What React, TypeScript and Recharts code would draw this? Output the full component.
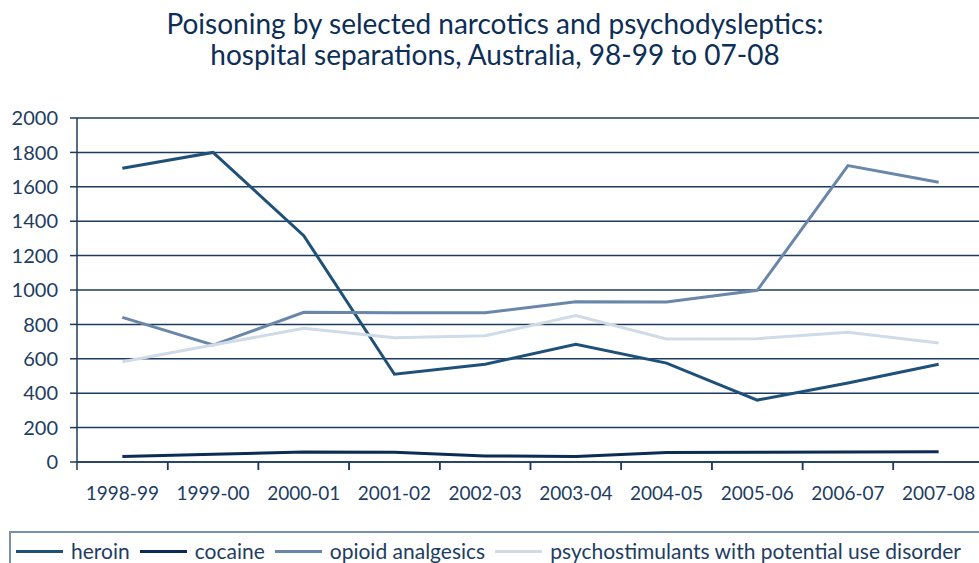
import { LineChart, Line, XAxis, YAxis, CartesianGrid } from 'recharts'

const years = ['1998-99', '1999-00', '2000-01', '2001-02', '2002-03', '2003-04', '2004-05', '2005-06', '2006-07', '2007-08']
const heroin = [1708, 1800, 1316, 510, 568, 684, 575, 360, 459, 568]
const cocaine = [32, 45, 58, 57, 35, 32, 55, 57, 58, 60]
const opioid = [841, 680, 870, 868, 868, 932, 930, 998, 1723, 1626]
const psycho = [583, 680, 777, 723, 734, 851, 715, 717, 754, 692]
const yTicks = [0, 200, 400, 600, 800, 1000, 1200, 1400, 1600, 1800, 2000]

const series = [
  { key: 'heroin', name: 'heroin', color: '#1f5078' },
  { key: 'cocaine', name: 'cocaine', color: '#0b2c55' },
  { key: 'opioid', name: 'opioid analgesics', color: '#6a87a9' },
  { key: 'psycho', name: 'psychostimulants with potential use disorder', color: '#d0dbe8' },
]

const data = years.map((y, i) => ({
  year: y,
  heroin: heroin[i],
  cocaine: cocaine[i],
  opioid: opioid[i],
  psycho: psycho[i],
}))

const FONT = 'Lato, "Open Sans", sans-serif'
const TEXT = '#1d3d63'
const NAVY = '#1c3a5e'
const PLOT_W = 907
const HALF_BAND = PLOT_W / years.length / 2

// Excel-like category tick: mark sits on the band boundary, label in the middle
function XTick(props: any) {
  const { x, y, payload } = props
  return (
    <g>
      <line x1={x - HALF_BAND} x2={x - HALF_BAND} y1={y - 8} y2={y} stroke={NAVY} strokeWidth={1.5} />
      <line x1={x + HALF_BAND} x2={x + HALF_BAND} y1={y - 8} y2={y} stroke={NAVY} strokeWidth={1.5} />
      <text x={x} y={y + 30} textAnchor="middle" fill={TEXT} fontSize={19} fontFamily={FONT}>
        {payload.value}
      </text>
    </g>
  )
}

export default function App() {
  return (
    <div style={{ position: 'absolute', left: 0, top: 0, width: 979, height: 563, overflow: 'hidden', background: '#fff', fontFamily: FONT }}>
      <div style={{ position: 'absolute', left: 0, top: 8, width: 990, textAlign: 'center', color: '#0d2e56', fontSize: 28, lineHeight: '31px' }}>
        Poisoning by selected narcotics and psychodysleptics:
        <br />
        hospital separations, Australia, 98-99 to 07-08
      </div>
      <div style={{ position: 'absolute', left: 0, top: 0 }}>
        <LineChart width={1000} height={563} data={data} margin={{ top: 118, right: 16, left: 0, bottom: 71 }}>
          <CartesianGrid vertical={false} stroke={NAVY} strokeWidth={1.5} />
          <XAxis
            dataKey="year"
            height={30}
            padding={{ left: HALF_BAND, right: HALF_BAND }}
            axisLine={{ stroke: NAVY, strokeWidth: 1.5 }}
            tickLine={false}
            tick={<XTick />}
            interval={0}
          />
          <YAxis
            width={77}
            domain={[0, 2000]}
            ticks={yTicks}
            interval={0}
            axisLine={{ stroke: NAVY, strokeWidth: 1.5 }}
            tickLine={{ stroke: NAVY, strokeWidth: 1.5 }}
            tickSize={7}
            tickMargin={12}
            tick={{ fill: TEXT, fontSize: 20, fontFamily: FONT }}
          />
          {series.map((s) => (
            <Line
              key={s.key}
              type="linear"
              dataKey={s.key}
              name={s.name}
              stroke={s.color}
              strokeWidth={3}
              dot={false}
              isAnimationActive={false}
            />
          ))}
        </LineChart>
      </div>
      <div
        style={{
          position: 'absolute',
          left: 9,
          top: 531,
          width: 1000,
          height: 60,
          borderTop: '2px solid #7790ae',
          borderLeft: '2px solid #7790ae',
          display: 'flex',
          alignItems: 'flex-start',
          paddingTop: 6,
          paddingLeft: 5,
          boxSizing: 'border-box',
        }}
      >
        {series.map((s) => (
          <div key={s.key} style={{ display: 'flex', alignItems: 'center', marginRight: 10 }}>
            <span style={{ display: 'inline-block', width: 47, height: 3, background: s.color, marginRight: 8 }} />
            <span style={{ color: TEXT, fontSize: 21, lineHeight: '24px', whiteSpace: 'nowrap' }}>{s.name}</span>
          </div>
        ))}
      </div>
    </div>
  )
}
